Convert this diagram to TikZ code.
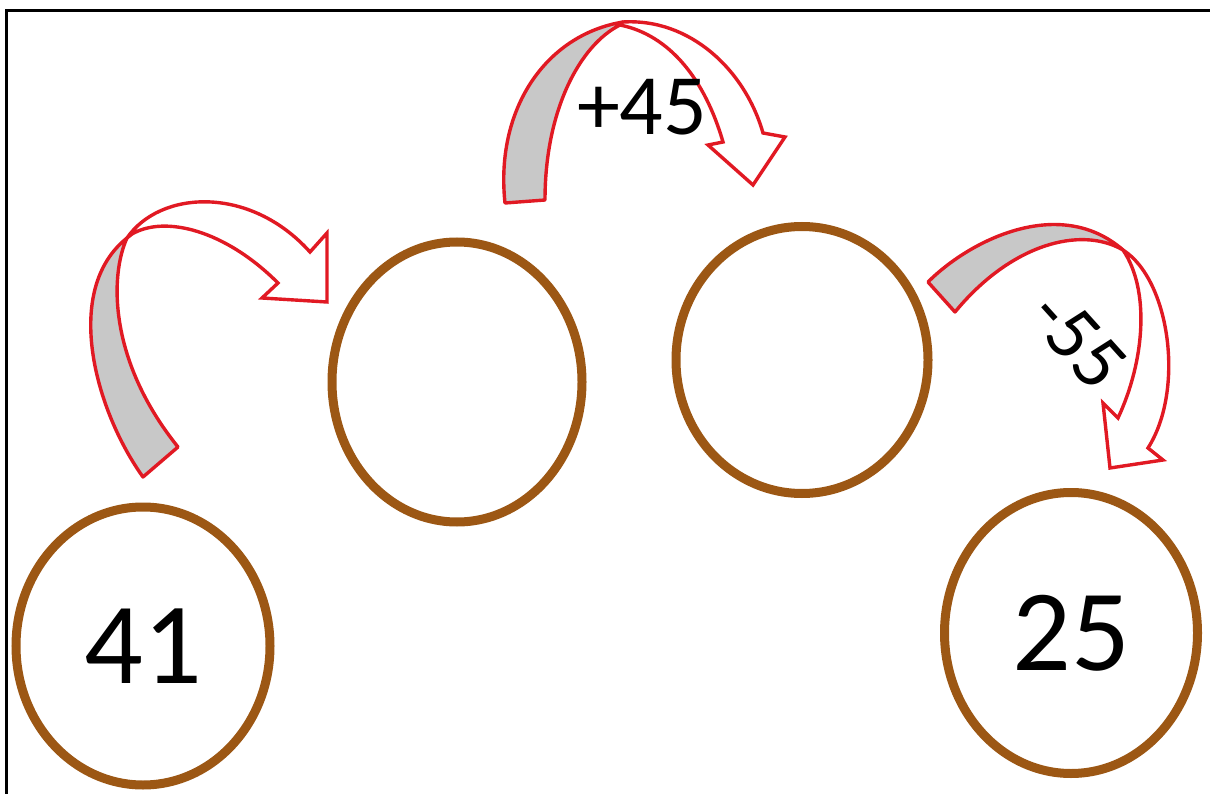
\documentclass[tikz,border=0pt]{standalone}
\usepackage{fontspec}
\setmainfont{Carlito}
\usetikzlibrary{shapes.geometric}
\definecolor{ringbrown}{RGB}{156,87,20}
\definecolor{arrowred}{RGB}{225,25,35}
\definecolor{backgray}{RGB}{200,200,200}
\tikzset{
  ring/.style={ellipse, draw=ringbrown, line width=9pt, inner sep=0pt},
  bandback/.style={draw=arrowred, fill=backgray, line width=3.4pt, line join=round},
  bandfront/.style={draw=arrowred, fill=white, line width=3.4pt, line join=miter},
}
\begin{document}
\begin{tikzpicture}[x=1pt, y=-1pt]
    \useasboundingbox (0,0) rectangle (1210,794);
    % frame
    \draw[line width=3pt] (6,794) -- (6,11) -- (1210,11);

    % number rings
    \node[ring, minimum width=254pt, minimum height=278pt] (start) at (143,646)
        {\fontsize{116}{122}\selectfont 41};
    \node[ring, minimum width=250pt, minimum height=280pt] (first) at (457,382) {};
    \node[ring, minimum width=252pt, minimum height=267pt] (second) at (802,360) {};
    \node[ring, minimum width=253pt, minimum height=281pt] (finish) at (1071,633)
        {\fontsize{116}{122}\selectfont 25};

    % arrow from 41 to the first ring
    \draw[bandback] (143,477) .. controls (95,410) and (62,290) .. (127,238)
        .. controls (110,275) and (108,360) .. (178,447) -- cycle;
    \draw[bandfront] (127,238) .. controls (160,190) and (250,185) .. (310,252)
        -- (327,233) -- (327,302) -- (262,298) -- (278,283)
        .. controls (225,230) and (165,215) .. (132,234) -- cycle;

    % arrow +45
    \draw[bandback] (505,203) .. controls (495,110) and (545,35) .. (623,22)
        -- (620,25) .. controls (580,45) and (545,110) .. (545,200) -- cycle;
    \draw[bandfront] (623,22) .. controls (690,18) and (745,70) .. (763,133)
        -- (785,137) -- (753,185) -- (708,145) -- (723,142)
        .. controls (705,80) and (670,35) .. (620,25) -- cycle;
    \node (plus) at (642,107) {\fontsize{86}{92}\selectfont +45};

    % arrow -55
    \draw[bandback] (928,282) .. controls (970,240) and (1060,195) .. (1123,250)
        .. controls (1080,225) and (1010,245) .. (955,312) -- cycle;
    \draw[bandfront] (1123,250) .. controls (1170,280) and (1185,390) .. (1148,448)
        -- (1163,460) -- (1110,468) -- (1103,403) -- (1118,418)
        .. controls (1145,360) and (1150,290) .. (1123,250) -- cycle;
    \node[rotate=-48] (minus) at (1078,340) {\fontsize{78}{84}\selectfont -55};
\end{tikzpicture}
\end{document}
